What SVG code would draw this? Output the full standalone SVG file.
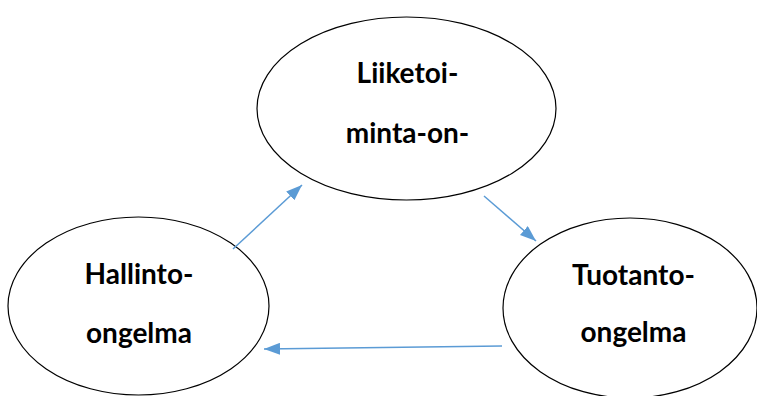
<svg xmlns="http://www.w3.org/2000/svg" width="757" height="396" viewBox="0 0 757 396">
<style>
.node ellipse{fill:#fff;stroke:#000;stroke-width:1.2}
.node text{font-family:Lato,"Liberation Sans",sans-serif;font-weight:bold;font-size:28px;fill:#000;text-anchor:middle}
.conn line{stroke:#5B9BD5;stroke-width:1.5}
</style>
<defs>
<marker id="ah" viewBox="0 0 10 10" refX="10" refY="5" markerWidth="10" markerHeight="8" markerUnits="userSpaceOnUse" orient="auto">
<path d="M0,0 L10,5 L0,10 z" fill="#5B9BD5"/>
</marker>
<marker id="head" viewBox="0 0 16 12" refX="16" refY="6" markerWidth="16" markerHeight="12" markerUnits="userSpaceOnUse" orient="auto">
<path d="M0,0 L16,6 L0,12 z" fill="#5B9BD5"/>
</marker>
</defs>
<rect width="757" height="396" fill="#fff"/>
<g id="n-liiketoiminta" class="node">
<ellipse cx="406.5" cy="108.5" rx="149.5" ry="91.5"/>
<text x="407.5" y="83">Liiketoi-</text>
<text x="407.5" y="143">minta-on-</text>
</g>
<g id="n-hallinto" class="node">
<ellipse cx="138.5" cy="306" rx="130.5" ry="89"/>
<text x="139" y="284">Hallinto-</text>
<text x="139" y="343">ongelma</text>
</g>
<g id="n-tuotanto" class="node">
<ellipse cx="630" cy="308" rx="127" ry="90"/>
<text x="633.5" y="285">Tuotanto-</text>
<text x="633.5" y="342">ongelma</text>
</g>
<g id="connectors" class="conn">
<line x1="233" y1="249" x2="302" y2="185" marker-end="url(#head)"/>
<line x1="484" y1="196" x2="536" y2="241" marker-end="url(#head)"/>
<line x1="502" y1="346" x2="264" y2="349" marker-end="url(#head)"/>
</g>
</svg>
